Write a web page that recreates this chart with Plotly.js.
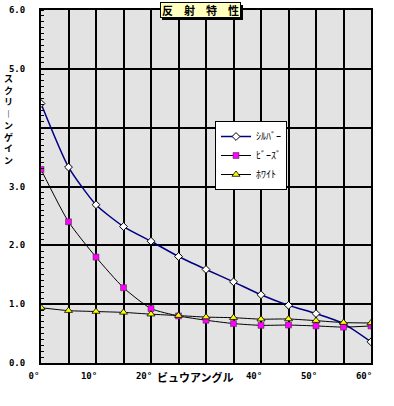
<!DOCTYPE html>
<html>
<head>
<meta charset="utf-8">
<script src="https://cdn.plot.ly/plotly-3.0.1.min.js"></script>
<style>html,body{margin:0;padding:0;background:#fff;}#chart{width:394px;height:406px;}</style>
</head>
<body>
<div id="chart"></div>
<script>
// ---- data ----
const angles = [0, 5, 10, 15, 20, 25, 30, 35, 40, 45, 50, 55, 60];
const silver = [4.41, 3.33, 2.69, 2.32, 2.07, 1.81, 1.59, 1.38, 1.16, 0.98, 0.84, 0.67, 0.36];
const beads  = [3.29, 2.40, 1.80, 1.28, 0.925, 0.80, 0.727, 0.67, 0.64, 0.645, 0.63, 0.61, 0.63];
const white  = [0.94, 0.89, 0.875, 0.86, 0.83, 0.806, 0.78, 0.77, 0.745, 0.748, 0.72, 0.687, 0.68];
const seriesNames = ['ｼﾙﾊﾞｰ', 'ﾋﾞｰｽﾞ', 'ﾎﾜｲﾄ'];
const xTickVals = [0, 10, 20, 30, 40, 50, 60];
// the 30° label is hidden behind the axis title in the reference
const xTickText = ['0°', '10°', '20°', '', '40°', '50°', '60°'];
const yTickVals = [0, 1, 2, 3, 4, 5, 6];
// the 4.0 label is hidden behind the axis title in the reference
const yTickText = ['0.0', '1.0', '2.0', '3.0', '', '5.0', '6.0'];
const chartTitle = '反\u3000射\u3000特\u3000性';
const xTitle = 'ビュウアングル';
const yTitleChars = ['ス', 'ク', 'リ', '︱', 'ン', 'ゲ', 'イ', 'ン'];

// ---- layout geometry ----
const WID = 394, HEI = 406;
const M = {l: 41, r: 23, t: 10, b: 43};
const PW = WID - M.l - M.r, PH = HEI - M.t - M.b;
const px = v => (v - M.l) / PW;
const py = v => (M.t + PH - v) / PH;

const tickFont = {family: 'DejaVu Sans Mono', size: 9, color: '#000', weight: 'bold'};
const jpFont = {family: 'Noto Sans CJK JP', size: 11, color: '#000', weight: 'bold'};

const traces = [
  {x: angles, y: silver, name: seriesNames[0], type: 'scatter', mode: 'lines+markers',
   line: {color: '#000080', width: 1.5, shape: 'spline', smoothing: 0.6},
   marker: {symbol: 'diamond', size: 6, color: '#ffffff', line: {color: '#000', width: 1}}},
  {x: angles, y: beads, name: seriesNames[1], type: 'scatter', mode: 'lines+markers',
   line: {color: '#000000', width: 1, shape: 'spline', smoothing: 0.6},
   marker: {symbol: 'square', size: 6, color: '#ff00ff', line: {color: '#333', width: 0.5}}},
  {x: angles, y: white, name: seriesNames[2], type: 'scatter', mode: 'lines+markers',
   line: {color: '#000000', width: 1, shape: 'spline', smoothing: 0.6},
   marker: {symbol: 'triangle-up', size: 7, color: '#ffff00', line: {color: '#000', width: 0.8}}}
];

const annotations = [
  {xref: 'paper', yref: 'paper', x: px(200), y: py(10.5), xanchor: 'center', yanchor: 'middle',
   text: chartTitle, showarrow: false, font: jpFont,
   bgcolor: '#ffffc0', bordercolor: '#000', borderwidth: 1, width: 77, height: 12},
  {xref: 'paper', yref: 'paper', x: px(195), y: py(377), xanchor: 'center', yanchor: 'middle',
   text: xTitle, showarrow: false, font: jpFont},
  {xref: 'paper', yref: 'paper', x: px(2), y: py(119), xanchor: 'left', yanchor: 'middle',
   text: yTitleChars.join('<br>'), showarrow: false,
   font: {family: 'Noto Sans CJK JP', size: 9, color: '#000', weight: 'bold'}, align: 'left'}
];

const shapes = [
  {type: 'rect', xref: 'paper', yref: 'paper', x0: px(162), x1: px(243), y0: py(20), y1: py(5),
   fillcolor: '#000', line: {width: 0}, layer: 'above'}
];

const layout = {
  width: WID, height: HEI, margin: M,
  paper_bgcolor: '#ffffff', plot_bgcolor: '#e3e3e3',
  showlegend: true,
  legend: {x: px(215), y: py(121), xanchor: 'left', yanchor: 'top',
    bgcolor: '#ffffff', bordercolor: '#000', borderwidth: 1,
    font: {family: 'Noto Sans CJK JP', size: 10, color: '#000'}, tracegroupgap: 0},
  xaxis: {range: [0, 60], tickvals: xTickVals, ticktext: xTickText, tickfont: tickFont,
    showgrid: true, gridcolor: '#000', gridwidth: 2, zeroline: false,
    showline: true, linecolor: '#000', linewidth: 2, mirror: true, ticks: '',
    ticklabelshift: -7, ticklabelstandoff: 3,
    minor: {dtick: 5, tick0: 0, showgrid: true, gridcolor: '#000', gridwidth: 2}},
  yaxis: {range: [0, 6], tickvals: yTickVals, ticktext: yTickText, tickfont: tickFont,
    showgrid: true, gridcolor: '#000', gridwidth: 2, zeroline: false,
    showline: true, linecolor: '#000', linewidth: 2, mirror: true, ticks: '',
    ticklabelstandoff: 12,
    minor: {dtick: 0.1, tick0: 0, ticks: 'inside', ticklen: 3, tickcolor: '#000', tickwidth: 1, showgrid: false}},
  annotations: annotations,
  shapes: shapes
};

Plotly.newPlot('chart', traces, layout, {displayModeBar: false, staticPlot: true});
</script>
</body>
</html>
